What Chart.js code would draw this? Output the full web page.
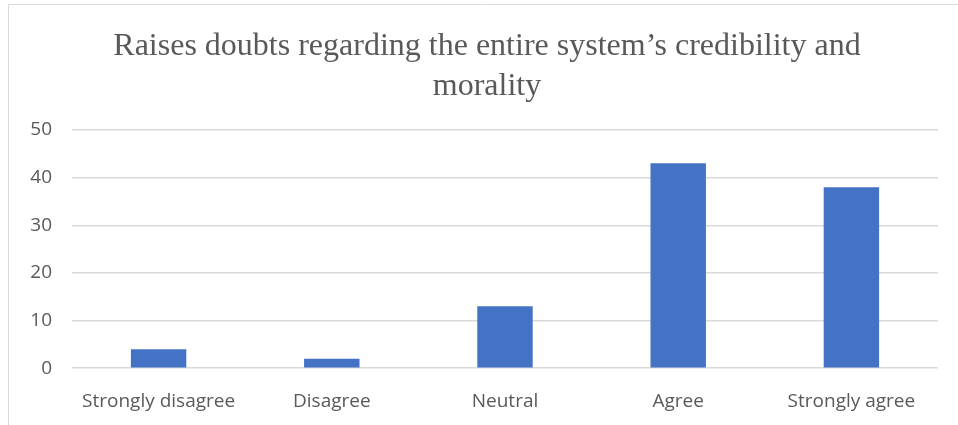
<!DOCTYPE html>
<html lang="en">
<head>
  <meta charset="UTF-8">
  <title>Raises doubts regarding the entire system's credibility and morality</title>
  <script src="https://cdn.jsdelivr.net/npm/chart.js"></script>
  <style>
    html, body { margin: 0; padding: 0; background: #fff; }
    #wrap { position: relative; width: 958px; height: 425px; }
  </style>
</head>
<body>
  <div id="wrap">
    <canvas id="surveyChart" width="958" height="425"></canvas>
  </div>

  <script>
    const categories = ['Strongly disagree', 'Disagree', 'Neutral', 'Agree', 'Strongly agree'];
    const responses = [4, 2, 13, 43, 38];
    const yTicks = [0, 10, 20, 30, 40, 50];
    const titleLines = ['Raises doubts regarding the entire system\u2019s credibility and', 'morality'];

    // frame plus a two-line serif title centred a little right of the canvas middle
    const frameAndTitle = {
      id: 'frameAndTitle',
      beforeDraw(chart) {
        const ctx = chart.ctx;
        ctx.save();
        ctx.strokeStyle = '#d9d9d9';
        ctx.lineWidth = 1;
        ctx.beginPath();
        ctx.moveTo(8.5, 425);
        ctx.lineTo(8.5, 4.5);
        ctx.lineTo(958, 4.5);
        ctx.stroke();
        ctx.restore();
      },
      afterDraw(chart) {
        const ctx = chart.ctx;
        ctx.save();
        ctx.fillStyle = '#595959';
        ctx.font = '32px "Liberation Serif", "Times New Roman", serif';
        ctx.textAlign = 'center';
        ctx.textBaseline = 'middle';
        titleLines.forEach((line, i) => ctx.fillText(line, 487, 47 + i * 40));
        ctx.restore();
      }
    };

    new Chart(document.getElementById('surveyChart'), {
      type: 'bar',
      data: {
        labels: categories,
        datasets: [{
          data: responses,
          backgroundColor: '#4472c4',
          borderWidth: 0,
          categoryPercentage: 1,
          barPercentage: 0.32
        }]
      },
      options: {
        responsive: false,
        animation: false,
        layout: { padding: { left: 10, right: 20, top: 130, bottom: -2 } },
        plugins: {
          legend: { display: false },
          tooltip: { enabled: false },
          title: { display: false }
        },
        scales: {
          x: {
            grid: { display: false },
            border: { display: false },
            ticks: {
              color: '#595959',
              font: { family: '"Open Sans", "Noto Sans", sans-serif', size: 19 },
              maxRotation: 0,
              padding: 14
            }
          },
          y: {
            min: 0,
            max: 50,
            afterBuildTicks(axis) {
              axis.ticks = yTicks.map(v => ({ value: v }));
            },
            afterFit(axis) { axis.width = 62; },
            grid: { color: '#d9d9d9', lineWidth: 1.5, drawTicks: false },
            border: { display: false },
            ticks: {
              color: '#595959',
              font: { family: '"Open Sans", "Noto Sans", sans-serif', size: 19 },
              padding: 20
            }
          }
        }
      },
      plugins: [frameAndTitle]
    });
  </script>
</body>
</html>
